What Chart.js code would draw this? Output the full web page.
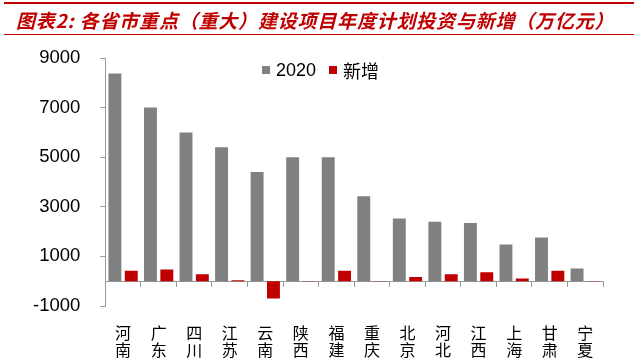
<!DOCTYPE html>
<html>
<head>
<meta charset="utf-8">
<script src="https://cdn.jsdelivr.net/npm/chart.js@4"></script>
<style>
html,body{margin:0;padding:0;background:#fff;}
#wrap{position:relative;width:640px;height:361px;overflow:hidden;}
#title{position:absolute;left:4px;top:2px;width:630px;height:33px;border-top:2px solid #C00000;border-bottom:1px solid #C00000;
  font-family:"Noto Sans CJK SC",sans-serif;font-weight:bold;font-style:italic;font-size:19px;color:#C00000;line-height:32px;padding-left:12px;box-sizing:border-box;white-space:nowrap;letter-spacing:0.8px;}
#legend{position:absolute;left:262px;top:57px;display:flex;align-items:center;font-size:18px;color:#000;}
#legend .item{display:flex;align-items:center;margin-right:13px;}
#legend .box{width:8px;height:8px;margin-right:6px;}
canvas{position:absolute;left:0;top:0;}
</style>
</head>
<body>
<div id="wrap">
<canvas id="c" width="640" height="361"></canvas>
<div id="title">图表2: 各省市重点（重大）建设项目年度计划投资与新增（万亿元）</div>
<div id="legend"></div>
</div>
<script>
const categories = ['河南','广东','四川','江苏','云南','陕西','福建','重庆','北京','河北','江西','上海','甘肃','宁夏'];
const values2020 = [8370, 7000, 6000, 5400, 4400, 5000, 5000, 3430, 2530, 2400, 2350, 1480, 1760, 510];
const valuesNew = [420, 470, 280, 40, -700, 10, 420, 10, 170, 280, 360, 110, 420, 10];
const seriesNames = ['2020', '新增'];
const yMin = -1000, yMax = 9000, yStep = 2000;

const axisColor = '#999999';
const chart = new Chart(document.getElementById('c'), {
  type: 'bar',
  data: {
    labels: categories.map(c => c.split('')),
    datasets: [
      {label: seriesNames[0], data: values2020, backgroundColor: '#808080', xAxisID: 'x', categoryPercentage: 0.92, barPercentage: 0.79},
      {label: seriesNames[1], data: valuesNew, backgroundColor: '#C00000', xAxisID: 'x', categoryPercentage: 0.92, barPercentage: 0.79}
    ]
  },
  options: {
    responsive: false,
    animation: false,
    layout: {padding: {left: 13, right: 37, top: 58, bottom: 0}},
    plugins: {
      legend: {display: false},
      tooltip: {enabled: false}
    },
    scales: {
      x: {
        type: 'category',
        position: 'bottom',
        grid: {display: false},
        border: {display: false},
        ticks: {color: '#000', padding: 10, maxRotation: 0, autoSkip: false,
          font: {family: '"Noto Sans CJK SC", sans-serif', size: 16, lineHeight: 1.1}},
        afterFit: s => { s.height = 55; }
      },
      x0: {
        type: 'category',
        position: {y: 0},
        grid: {offset: true, drawOnChartArea: false, drawTicks: true, tickLength: 5, color: axisColor},
        border: {display: true, color: axisColor},
        ticks: {display: false},
        afterFit: s => { s.height = 0; }
      },
      y: {
        min: yMin, max: yMax,
        ticks: {stepSize: yStep, color: '#000', padding: 20, callback: v => String(v),
          font: {family: '"Liberation Sans", Arial, sans-serif', size: 18.5}},
        grid: {drawOnChartArea: false, drawTicks: true, tickLength: 5, color: axisColor},
        border: {display: true, color: axisColor}
      }
    }
  }
});

// HTML legend built from the chart's datasets
const lg = document.getElementById('legend');
chart.data.datasets.forEach(ds => {
  const it = document.createElement('div'); it.className = 'item';
  const b = document.createElement('div'); b.className = 'box'; b.style.background = ds.backgroundColor;
  const t = document.createElement('span'); t.textContent = ds.label;
  t.style.fontFamily = '"Liberation Sans", "Noto Sans CJK SC", sans-serif';
  it.appendChild(b); it.appendChild(t); lg.appendChild(it);
});
</script>
</body>
</html>
